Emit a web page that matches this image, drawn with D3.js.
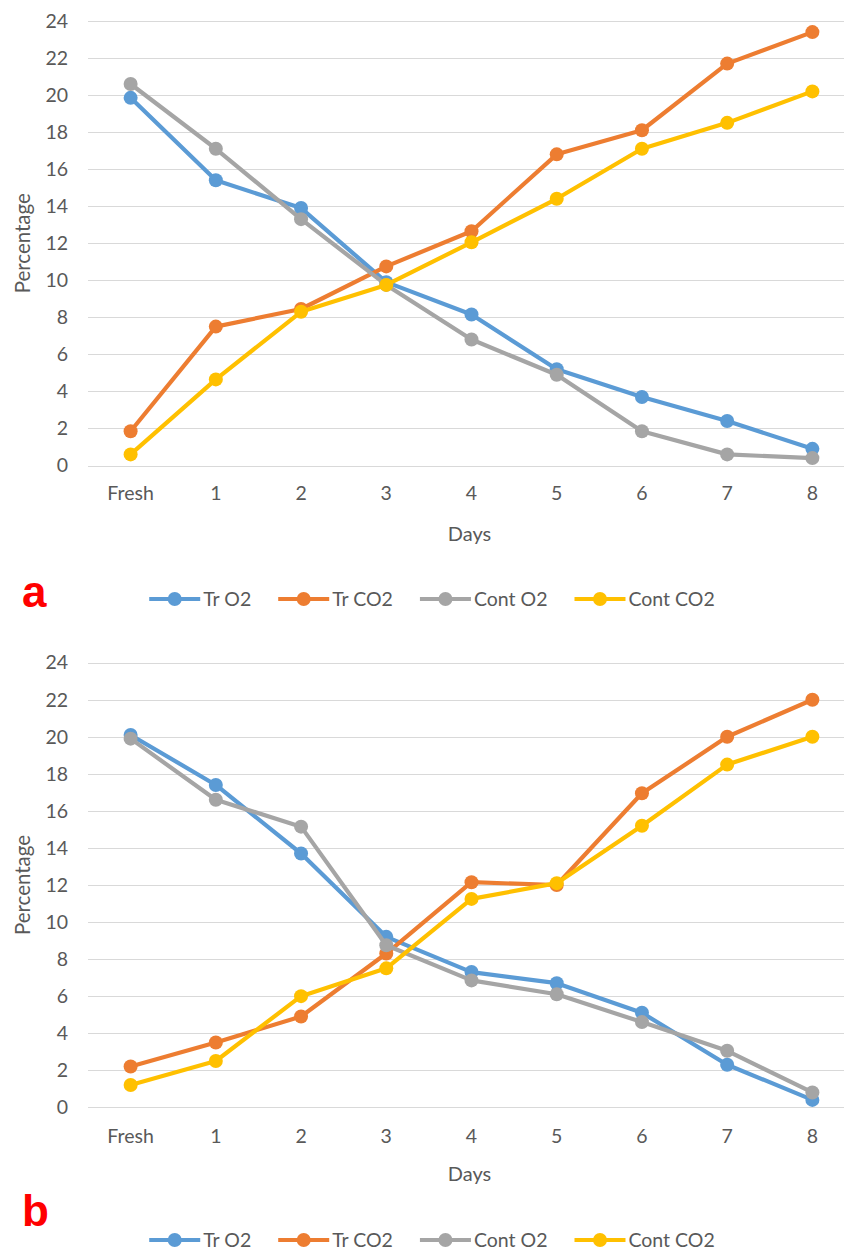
<!DOCTYPE html>
<html><head><meta charset="utf-8">
<script src="https://cdn.jsdelivr.net/npm/d3@7"></script>
<style>body{margin:0;background:#fff;overflow:hidden}</style>
</head><body>
<script>
const categories = ["Fresh","1","2","3","4","5","6","7","8"];
const seriesNames = ["Tr O2","Tr CO2","Cont O2","Cont CO2"];
const seriesColors = ["#5B9BD5","#ED7D31","#A5A5A5","#FFC000"];
const yTicks = [0,2,4,6,8,10,12,14,16,18,20,22,24];

const aTrO2    = [19.85,15.4,13.9,9.9,8.15,5.2,3.7,2.4,0.9];
const aTrCO2   = [1.85,7.5,8.45,10.75,12.65,16.8,18.1,21.7,23.4];
const aContO2  = [20.6,17.1,13.3,9.75,6.8,4.9,1.85,0.6,0.4];
const aContCO2 = [0.6,4.65,8.3,9.75,12.05,14.4,17.1,18.5,20.2];

const bTrO2    = [20.1,17.4,13.7,9.2,7.3,6.7,5.1,2.3,0.4];
const bTrCO2   = [2.2,3.5,4.9,8.3,12.15,12.0,16.95,20.0,22.0];
const bContO2  = [19.9,16.6,15.15,8.75,6.85,6.1,4.6,3.05,0.8];
const bContCO2 = [1.2,2.5,6.0,7.5,11.25,12.1,15.2,18.5,20.0];

const FONT = "Lato, 'Open Sans', sans-serif";
const TXT = "#595959";

const svg = d3.select("body").append("svg")
  .attr("width",844).attr("height",1251)
  .style("display","block");

function drawChart(opts){
  const g = svg.append("g");
  const x = d3.scaleBand().domain(categories).range([88,855]);
  const y = d3.scaleLinear().domain([0,24]).range([opts.y0, opts.y24]);

  g.append("g").selectAll("line").data(yTicks).join("line")
    .attr("x1",88).attr("x2",855)
    .attr("y1",d=>Math.round(y(d))+0.5).attr("y2",d=>Math.round(y(d))+0.5)
    .attr("stroke","#D9D9D9").attr("stroke-width",1.2);

  const yAxis = d3.axisLeft(y).tickValues(yTicks).tickSize(0).tickPadding(20);
  const ya = g.append("g").attr("transform","translate(88,0)").call(yAxis);
  ya.select(".domain").remove();
  ya.selectAll("text").attr("font-family",FONT).attr("font-size",19.5).attr("fill",TXT);

  const xAxis = d3.axisBottom(x).tickSize(0).tickPadding(opts.xPad);
  const xa = g.append("g").attr("transform",`translate(0,${opts.y0})`).call(xAxis);
  xa.select(".domain").remove();
  xa.selectAll("text").attr("font-family",FONT).attr("font-size",19.5).attr("fill",TXT);

  g.append("text").attr("x",(88+855)/2 - 2).attr("y",opts.y0+opts.titlePad)
    .attr("text-anchor","middle").attr("font-family",FONT).attr("font-size",20)
    .attr("fill",TXT).text("Days");
  const cy = (opts.y0+opts.y24)/2;
  g.append("text").attr("transform",`translate(30,${cy}) rotate(-90)`)
    .attr("text-anchor","middle").attr("font-family",FONT).attr("font-size",20.5)
    .attr("fill",TXT).text("Percentage");

  const line = d3.line().x((d,i)=>x(categories[i])+x.bandwidth()/2).y(d=>y(d));
  opts.series.forEach((vals,si)=>{
    const sg = g.append("g");
    sg.append("path").datum(vals).attr("d",line).attr("fill","none")
      .attr("stroke",seriesColors[si]).attr("stroke-width",4.2)
      .attr("stroke-linejoin","round").attr("stroke-linecap","round");
    sg.selectAll("circle").data(vals).join("circle")
      .attr("cx",(d,i)=>x(categories[i])+x.bandwidth()/2)
      .attr("cy",d=>y(d)).attr("r",7).attr("fill",seriesColors[si]);
  });

  g.append("text").attr("x",22).attr("y",opts.letterY)
    .attr("font-family","'Liberation Sans', Arial, sans-serif").attr("font-weight","bold")
    .attr("font-size",44).attr("fill","#FF0000").text(opts.letter);

  const lg = g.append("g");
  let cx = 0;
  seriesNames.forEach((name,si)=>{
    const it = lg.append("g");
    it.append("line").attr("x1",0).attr("x2",51).attr("y1",0).attr("y2",0)
      .attr("stroke",seriesColors[si]).attr("stroke-width",4.2);
    it.append("circle").attr("cx",25.5).attr("cy",0).attr("r",7).attr("fill",seriesColors[si]);
    const t = it.append("text").attr("x",54).attr("y",0).attr("dy","0.35em")
      .attr("font-family",FONT).attr("font-size",19.5).attr("fill",TXT).text(name);
    const w = 54 + t.node().getComputedTextLength();
    it.attr("transform",`translate(${cx},0)`);
    cx += w + 27;
  });
  const total = cx - 27;
  lg.attr("transform",`translate(${432 - total/2},${opts.legendY})`);
}

drawChart({y0:465.5, y24:21, xPad:21, titlePad:75, series:[aTrO2,aTrCO2,aContO2,aContCO2], letter:"a", letterY:607, legendY:599});
drawChart({y0:1107.3, y24:662.7, xPad:22, titlePad:74, series:[bTrO2,bTrCO2,bContO2,bContCO2], letter:"b", letterY:1226, legendY:1240});
</script>
</body></html>
